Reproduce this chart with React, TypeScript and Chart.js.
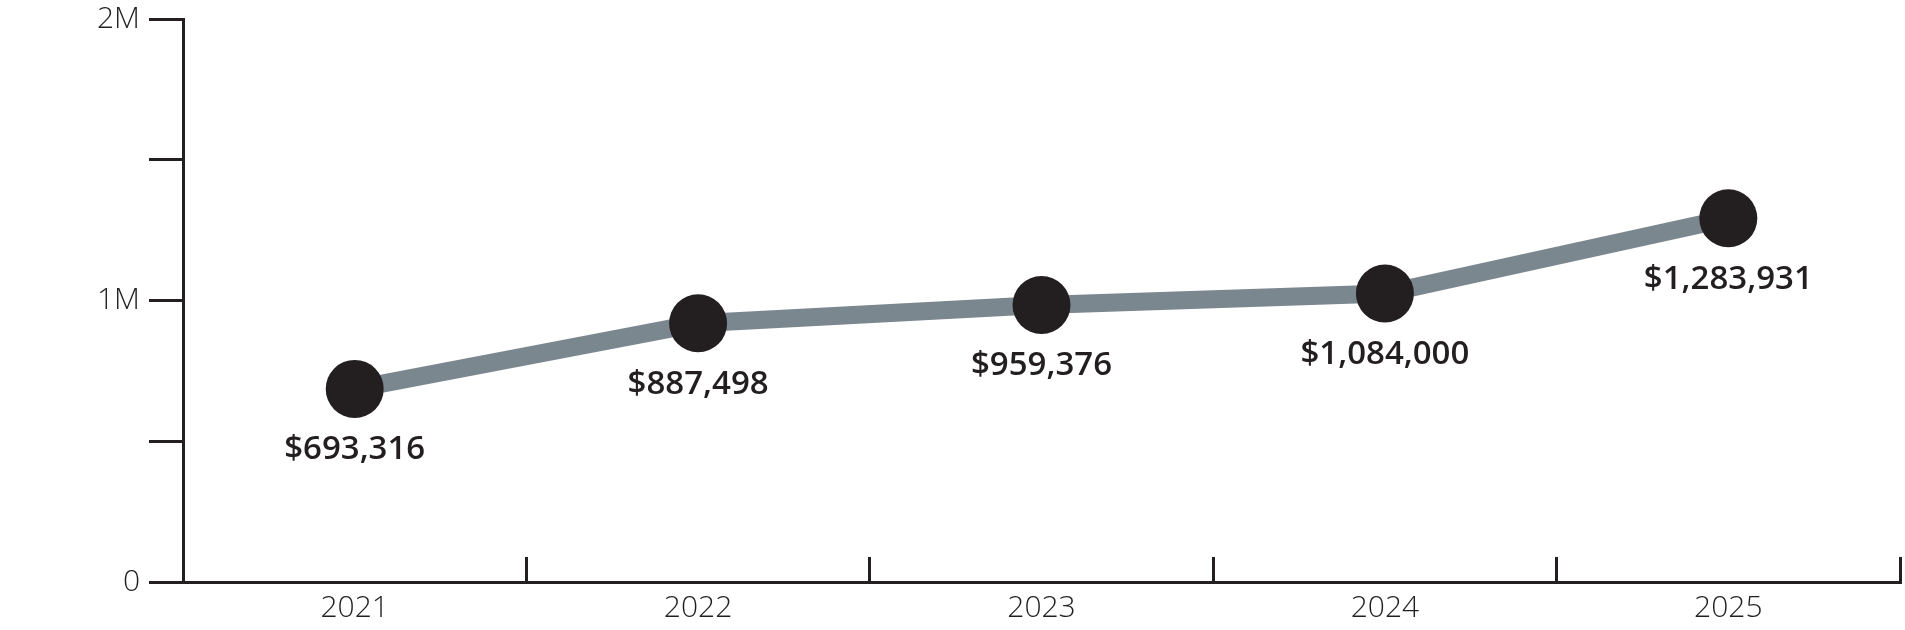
import { useEffect, useRef } from "react";
import { Chart, registerables, type ChartConfiguration } from "chart.js";

Chart.register(...registerables);

const INK = "#231f20";
const LINE = "#7b878f";
const FONT = "'Open Sans', 'Noto Sans', sans-serif";

// data
const years = ["2021", "2022", "2023", "2024", "2025"];
const plotted = [686000, 919000, 984000, 1025000, 1292000];
const amountLabels = ["$693,316", "$887,498", "$959,376", "$1,084,000", "$1,283,931"];
const yTickLabels: Record<number, string> = { 0: "0", 1000000: "1M", 2000000: "2M" };

const pointLabels = {
  id: "pointLabels",
  afterDatasetsDraw(chart: Chart) {
    const { ctx } = chart;
    const meta = chart.getDatasetMeta(0);
    ctx.save();
    ctx.font = `600 33px ${FONT}`;
    ctx.fillStyle = INK;
    ctx.textAlign = "center";
    ctx.textBaseline = "middle";
    meta.data.forEach((pt, i) => {
      ctx.fillText(amountLabels[i], pt.x, pt.y + 61);
    });
    ctx.restore();
  },
};

function build(): ChartConfiguration {
  return {
    type: "line",
    data: {
      labels: years,
      datasets: [{
        data: plotted, borderColor: LINE, borderWidth: 18, tension: 0,
        pointRadius: 29, pointHoverRadius: 29, pointBackgroundColor: INK, pointBorderWidth: 0,
      }],
    },
    options: {
      animation: false, responsive: true, maintainAspectRatio: false,
      layout: { autoPadding: false, padding: { top: 0, right: 5, left: 0, bottom: 0 } },
      plugins: { legend: { display: false }, tooltip: { enabled: false } },
      scales: {
        x: {
          offset: true,
          afterFit: (s: any) => { s.height = 48; s.paddingLeft = 0; s.paddingRight = 0; },
          grid: { offset: true, drawOnChartArea: false, tickLength: -25, color: INK, lineWidth: 3 },
          border: { color: INK, width: 3 },
          ticks: { color: INK, padding: 33, font: { family: FONT, size: 30, weight: 300 as any } },
        },
        y: {
          min: 0, max: 2000000,
          afterFit: (s: any) => { s.width = 183; s.paddingTop = 19; s.paddingBottom = 0; },
          grid: { drawOnChartArea: false, tickLength: 34, color: INK, lineWidth: 3 },
          border: { color: INK, width: 3 },
          ticks: {
            stepSize: 500000, color: INK, padding: 9, font: { family: FONT, size: 30, weight: 300 as any },
            callback: (v: any) => yTickLabels[v] ?? "",
          },
        },
      },
    },
    plugins: [pointLabels],
  };
}

export default function App() {
  const ref = useRef<HTMLCanvasElement>(null);
  useEffect(() => {
    if (!ref.current) return;
    const chart = new Chart(ref.current, build());
    return () => chart.destroy();
  }, []);
  return (
    <div style={{ position: "fixed", left: 0, top: 0, width: 1905, height: 630, background: "#fff" }}>
      <canvas ref={ref} />
    </div>
  );
}
